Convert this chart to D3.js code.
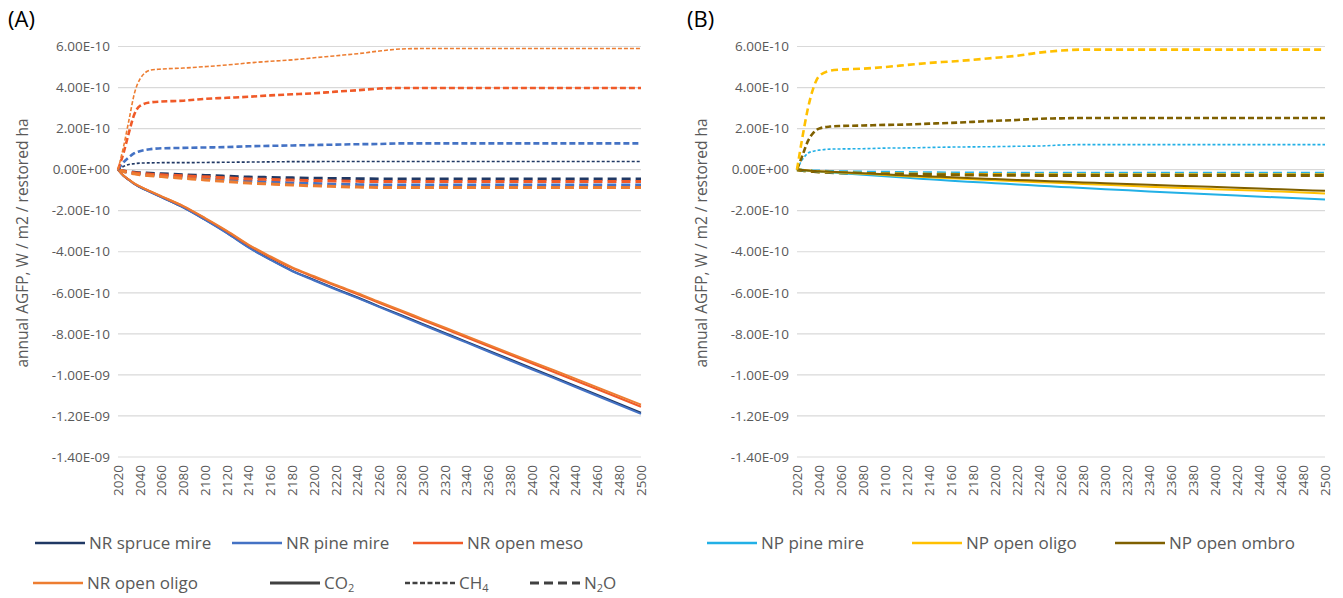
<!DOCTYPE html>
<html>
<head>
<meta charset="utf-8">
<style>
  body { margin: 0; background: #fff; }
  text { font-family: "Open Sans", "Noto Sans", sans-serif; fill: #595959; }
</style>
</head>
<body>
<svg id="chart" width="1343" height="598"></svg>

<script src="https://d3js.org/d3.v7.min.js"></script>
<script>
// years sampled from the curves (x axis is 2020..2500)
var years = [2020, 2025, 2030, 2035, 2040, 2050, 2060, 2080, 2100, 2120, 2140, 2160,
             2180, 2200, 2220, 2240, 2260, 2280, 2300, 2340, 2380, 2420, 2460, 2500];

// values in units of 1E-10 W / m2 / restored ha
// ---- panel A: NR sites
var nrSpruceCO2 = [0, -0.3, -0.5, -0.7, -0.85, -1.09, -1.34, -1.84, -2.44, -3.08, -3.78, -4.38, -4.93, -5.37, -5.81, -6.23, -6.67, -7.09, -7.53, -8.39, -9.25, -10.11, -10.97, -11.84];
var nrPineCO2   = [0, -0.3, -0.5, -0.7, -0.85, -1.1, -1.35, -1.85, -2.45, -3.1, -3.8, -4.4, -4.95, -5.4, -5.84, -6.26, -6.7, -7.13, -7.57, -8.43, -9.3, -10.16, -11.03, -11.9];
var nrMesoCO2   = [0, -0.29, -0.49, -0.68, -0.82, -1.07, -1.31, -1.79, -2.38, -3.01, -3.69, -4.27, -4.8, -5.24, -5.66, -6.07, -6.5, -6.92, -7.34, -8.18, -9.02, -9.86, -10.7, -11.55];
var nrOligoCO2  = [0, -0.29, -0.48, -0.67, -0.82, -1.06, -1.3, -1.78, -2.36, -2.98, -3.66, -4.23, -4.76, -5.19, -5.62, -6.02, -6.45, -6.86, -7.28, -8.11, -8.95, -9.77, -10.61, -11.45];

var nrSpruceCH4 = [0, 0.15, 0.25, 0.29, 0.32, 0.33, 0.34, 0.34, 0.35, 0.36, 0.37, 0.38, 0.39, 0.39, 0.4, 0.4, 0.4, 0.4, 0.4, 0.4, 0.4, 0.4, 0.4, 0.4];
var nrPineCH4   = [0, 0.35, 0.6, 0.8, 0.9, 1.0, 1.04, 1.06, 1.08, 1.1, 1.14, 1.16, 1.18, 1.2, 1.22, 1.24, 1.25, 1.28, 1.28, 1.28, 1.28, 1.28, 1.28, 1.28];
var nrMesoCH4   = [0, 0.8, 1.8, 2.7, 3.1, 3.28, 3.32, 3.36, 3.45, 3.5, 3.55, 3.62, 3.67, 3.72, 3.8, 3.87, 3.95, 3.98, 3.98, 3.98, 3.98, 3.98, 3.98, 3.98];
var nrOligoCH4  = [0, 1.1, 2.4, 3.7, 4.4, 4.85, 4.9, 4.95, 5.02, 5.1, 5.2, 5.28, 5.35, 5.45, 5.55, 5.65, 5.78, 5.88, 5.9, 5.9, 5.9, 5.9, 5.9, 5.9];

var nrSpruceN2O = [0, -0.06, -0.1, -0.13, -0.15, -0.18, -0.2, -0.25, -0.28, -0.32, -0.36, -0.38, -0.4, -0.42, -0.43, -0.44, -0.45, -0.45, -0.45, -0.45, -0.45, -0.45, -0.45, -0.45];
var nrPineN2O   = [0, -0.08, -0.14, -0.18, -0.22, -0.27, -0.3, -0.37, -0.43, -0.5, -0.56, -0.61, -0.65, -0.68, -0.71, -0.73, -0.75, -0.75, -0.75, -0.75, -0.75, -0.75, -0.75, -0.75];
var nrMesoN2O   = [0, -0.07, -0.12, -0.15, -0.18, -0.22, -0.25, -0.3, -0.35, -0.4, -0.45, -0.48, -0.51, -0.53, -0.55, -0.57, -0.58, -0.58, -0.58, -0.58, -0.58, -0.58, -0.58, -0.58];
var nrOligoN2O  = [0, -0.09, -0.16, -0.2, -0.25, -0.3, -0.34, -0.42, -0.5, -0.58, -0.65, -0.7, -0.75, -0.79, -0.82, -0.85, -0.87, -0.87, -0.87, -0.87, -0.87, -0.87, -0.87, -0.87];

// ---- panel B: NP sites
var npPineCO2  = [0, -0.03, -0.05, -0.07, -0.09, -0.13, -0.17, -0.25, -0.32, -0.4, -0.47, -0.54, -0.6, -0.66, -0.72, -0.78, -0.84, -0.9, -0.95, -1.06, -1.16, -1.26, -1.36, -1.45];
var npOligoCO2 = [0, -0.02, -0.04, -0.06, -0.08, -0.11, -0.14, -0.2, -0.26, -0.32, -0.37, -0.42, -0.47, -0.52, -0.56, -0.61, -0.65, -0.7, -0.74, -0.83, -0.91, -0.99, -1.07, -1.16];
var npOmbroCO2 = [0, -0.02, -0.04, -0.06, -0.08, -0.1, -0.13, -0.18, -0.23, -0.28, -0.33, -0.37, -0.42, -0.46, -0.5, -0.54, -0.58, -0.62, -0.66, -0.74, -0.81, -0.88, -0.96, -1.03];

var npPineCH4  = [0, 0.5, 0.8, 0.9, 0.95, 1.0, 1.01, 1.02, 1.05, 1.06, 1.08, 1.1, 1.11, 1.12, 1.14, 1.15, 1.2, 1.22, 1.22, 1.22, 1.22, 1.22, 1.22, 1.22];
var npOligoCH4 = [0, 1.6, 3.0, 4.0, 4.55, 4.82, 4.88, 4.92, 5.0, 5.1, 5.2, 5.27, 5.35, 5.45, 5.55, 5.7, 5.8, 5.85, 5.85, 5.85, 5.85, 5.85, 5.85, 5.85];
var npOmbroCH4 = [0, 0.7, 1.4, 1.8, 2.0, 2.1, 2.13, 2.15, 2.18, 2.2, 2.24, 2.28, 2.33, 2.38, 2.42, 2.48, 2.5, 2.52, 2.52, 2.52, 2.52, 2.52, 2.52, 2.52];

var npPineN2O  = [0, -0.03, -0.05, -0.06, -0.07, -0.09, -0.1, -0.12, -0.13, -0.14, -0.15, -0.16, -0.16, -0.17, -0.17, -0.17, -0.17, -0.17, -0.17, -0.17, -0.17, -0.17, -0.17, -0.17];
var npOligoN2O = [0, -0.04, -0.07, -0.09, -0.1, -0.13, -0.15, -0.18, -0.2, -0.21, -0.22, -0.23, -0.24, -0.24, -0.25, -0.25, -0.25, -0.25, -0.25, -0.25, -0.25, -0.25, -0.25, -0.25];
var npOmbroN2O = [0, -0.04, -0.07, -0.09, -0.11, -0.14, -0.16, -0.19, -0.21, -0.23, -0.24, -0.25, -0.26, -0.27, -0.27, -0.28, -0.28, -0.28, -0.28, -0.28, -0.28, -0.28, -0.28, -0.28];

var yTicks = [6, 4, 2, 0, -2, -4, -6, -8, -10, -12, -14];
var xTicks = d3.range(2020, 2501, 20);

// colours and line styles
var col = {
  nrSpruce: "#203864", nrPine: "#4472c4", nrMeso: "#f05a28", nrOligo: "#ed7d31",
  npPine: "#22b0e6", npOligo: "#ffc000", npOmbro: "#7f6000"
};

var panelA = [
  { v: nrSpruceCO2, c: col.nrSpruce, w: 2, d: null },
  { v: nrPineCO2,   c: col.nrPine,   w: 2, d: null },
  { v: nrMesoCO2,   c: col.nrMeso,   w: 2, d: null },
  { v: nrOligoCO2,  c: col.nrOligo,  w: 2, d: null },
  { v: nrSpruceN2O, c: col.nrSpruce, w: 3, d: "9,5" },
  { v: nrPineN2O,   c: col.nrPine,   w: 3, d: "9,5" },
  { v: nrMesoN2O,   c: col.nrMeso,   w: 3, d: "9,5" },
  { v: nrOligoN2O,  c: col.nrOligo,  w: 3, d: "9,5" },
  { v: nrSpruceCH4, c: col.nrSpruce, w: 1.6, d: "3,2" },
  { v: nrPineCH4,   c: col.nrPine,   w: 2.6, d: "6,3" },
  { v: nrMesoCH4,   c: col.nrMeso,   w: 2.6, d: "6,3" },
  { v: nrOligoCH4,  c: col.nrOligo,  w: 1.6, d: "4,2" }
];
var panelB = [
  { v: npPineN2O,  c: col.npPine,  w: 3, d: "9,5" },
  { v: npOligoN2O, c: col.npOligo, w: 3, d: "9,5" },
  { v: npOmbroN2O, c: col.npOmbro, w: 3, d: "9,5" },
  { v: npPineCO2,  c: col.npPine,  w: 2, d: null },
  { v: npOligoCO2, c: col.npOligo, w: 2, d: null },
  { v: npOmbroCO2, c: col.npOmbro, w: 2, d: null },
  { v: npPineCH4,  c: col.npPine,  w: 1.6, d: "3,2" },
  { v: npOmbroCH4, c: col.npOmbro, w: 2.6, d: "6,3" },
  { v: npOligoCH4, c: col.npOligo, w: 2.6, d: "7,4" }
];

var svg = d3.select("#chart");

// tick label like Excel: 6.00E-10, 0.00E+00, -1.00E-09
function sci(v) {
  var n = v * 1e-10;
  if (Math.abs(n) < 1e-20) return "0.00E+00";
  var s = n.toExponential(2).toUpperCase();
  return s.replace(/E([+-])(\d)$/, "E$10$2");
}

var y = d3.scaleLinear().domain([-14, 6]).range([457, 46.5]);

function drawPanel(x0, x1, label, series) {
  var x = d3.scaleLinear().domain([2020, 2500]).range([x0, x1]);
  var g = svg.append("g");

  g.selectAll(".grid").data(yTicks).enter().append("line")
    .attr("x1", x0).attr("x2", x1)
    .attr("y1", function (d) { return y(d); }).attr("y2", function (d) { return y(d); })
    .attr("stroke", "#d9d9d9").attr("stroke-width", 1.2);

  g.selectAll(".ylab").data(yTicks).enter().append("text")
    .attr("x", x0 - 8).attr("y", function (d) { return y(d); })
    .attr("dy", "0.35em").attr("text-anchor", "end")
    .style("font-size", "13.5px")
    .text(sci);

  g.selectAll(".xlab").data(xTicks).enter().append("text")
    .attr("transform", function (d) { return "translate(" + x(d) + ",465) rotate(-90)"; })
    .attr("dy", "0.35em").attr("text-anchor", "end")
    .style("font-size", "13.5px")
    .text(function (d) { return d; });

  g.append("text")
    .attr("transform", "translate(" + (x0 - 90) + ",243) rotate(-90)")
    .attr("text-anchor", "middle")
    .style("font-size", "15.5px")
    .text("annual AGFP, W / m2 / restored ha");

  g.append("text")
    .attr("x", x0 - 110).attr("y", 27)
    .style("font-size", "22px").style("fill", "#000")
    .text(label);

  var line = d3.line()
    .x(function (d, i) { return x(years[i]); })
    .y(function (d) { return y(d); })
    .curve(d3.curveMonotoneX);

  series.forEach(function (s) {
    g.append("path")
      .attr("d", line(s.v))
      .attr("fill", "none")
      .attr("stroke", s.c)
      .attr("stroke-width", s.w)
      .attr("stroke-dasharray", s.d);
  });
}

drawPanel(118, 641, "(A)", panelA);
drawPanel(797, 1325, "(B)", panelB);

// legend
var legendItems = [
  { t: "NR spruce mire", c: col.nrSpruce, x: 35,   y: 543, d: null, w: 2.5 },
  { t: "NR pine mire",   c: col.nrPine,   x: 232,  y: 543, d: null, w: 2.5 },
  { t: "NR open meso",   c: col.nrMeso,   x: 413,  y: 543, d: null, w: 2.5 },
  { t: "NP pine mire",   c: col.npPine,   x: 707,  y: 543, d: null, w: 2.5 },
  { t: "NP open oligo",  c: col.npOligo,  x: 912,  y: 543, d: null, w: 2.5 },
  { t: "NP open ombro",  c: col.npOmbro,  x: 1115, y: 543, d: null, w: 2.5 },
  { t: "NR open oligo",  c: col.nrOligo,  x: 33,   y: 583, d: null, w: 2.5 },
  { t: ["CO", "2", ""],  c: "#404040",    x: 270,  y: 583, d: null, w: 3 },
  { t: ["CH", "4", ""],  c: "#404040",    x: 405,  y: 583, d: "5,2.5", w: 2.5 },
  { t: ["N", "2", "O"],  c: "#404040",    x: 530,  y: 583, d: "9,5", w: 3 }
];

var leg = svg.append("g");
legendItems.forEach(function (it) {
  leg.append("line")
    .attr("x1", it.x).attr("x2", it.x + 50)
    .attr("y1", it.y).attr("y2", it.y)
    .attr("stroke", it.c).attr("stroke-width", it.w)
    .attr("stroke-dasharray", it.d);
  var t = leg.append("text")
    .attr("x", it.x + 54).attr("y", it.y).attr("dy", "0.35em")
    .style("font-size", "17px");
  if (typeof it.t === "string") {
    t.text(it.t);
  } else {
    t.append("tspan").text(it.t[0]);
    t.append("tspan").style("font-size", "11px").attr("dy", 3).text(it.t[1]);
    t.append("tspan").attr("dy", -3).text(it.t[2]);
  }
});
</script>
</body>
</html>
